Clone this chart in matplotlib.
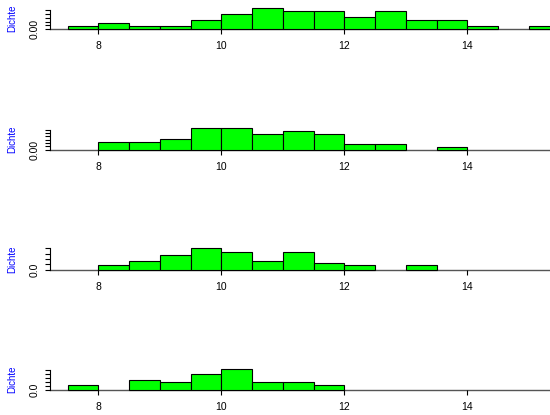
import matplotlib.pyplot as plt
import numpy as np

plt.rcParams['font.family'] = ['Liberation Sans', 'DejaVu Sans']

# histogram bins 7.5 .. 15.5, width 0.5
breaks = np.arange(7.5, 16.0, 0.5)

# counts per bin, four samples of 50
counts1 = [1, 2, 1, 1, 3, 5, 7, 6, 6, 4, 6, 3, 3, 1, 0, 1]
counts2 = [0, 3, 3, 4, 8, 8, 6, 7, 6, 2, 2, 0, 1, 0, 0, 0]
counts3 = [0, 2, 4, 7, 10, 8, 4, 8, 3, 2, 0, 2, 0, 0, 0, 0]
counts4 = [3, 0, 6, 5, 10, 13, 5, 5, 3, 0, 0, 0, 0, 0, 0, 0]

xticks = [8, 10, 12, 14]
ytick_steps = [0.05, 0.05, 0.1, 0.1]
ytick_tops = [0.25, 0.30, 0.4, 0.5]
zero_labels = ['0.00', '0.00', '0.0', '0.0']
ylab = 'Dichte'

W, H = 550, 415
fig = plt.figure(figsize=(5.5, 4.15), dpi=100)

baselines = [29.3, 149.7, 269.7, 390.3]   # pixel rows from top
ax_h = 21.5
ax_left, ax_right = 50, 550
px_per_unit = 61.5
x0 = 8 - (98.3 - ax_left) / px_per_unit
x1 = 8 + (ax_right - 98.3) / px_per_unit

for i, counts in enumerate([counts1, counts2, counts3, counts4]):
    counts = np.array(counts)
    n = counts.sum()
    width = breaks[1] - breaks[0]
    dens = counts / (n * width)
    b = baselines[i]
    ax = fig.add_axes([ax_left / W, (H - b) / H, (ax_right - ax_left) / W, ax_h / H])
    ax.axhline(0, color='#555555', lw=1.0, zorder=1, clip_on=False)
    mask = counts > 0
    ax.bar(breaks[:-1][mask], dens[mask], width=width, align='edge',
           color='#00ff00', edgecolor='black', linewidth=0.8, zorder=2,
           clip_on=False)
    ax.set_xlim(x0, x1)
    ax.set_ylim(0, dens.max())
    for s in ['top', 'right', 'bottom']:
        ax.spines[s].set_visible(False)
    ax.spines['left'].set_bounds(0, ytick_tops[i])
    ax.spines['left'].set_linewidth(0.8)
    yt = np.arange(0, ytick_tops[i] + 1e-9, ytick_steps[i])
    ax.set_yticks(yt)
    ax.set_yticklabels([zero_labels[i]] + [''] * (len(yt) - 1),
                       rotation=90, va='center', fontsize=7.5)
    ax.set_xticks(xticks)
    ax.set_xticklabels([str(t) for t in xticks], fontsize=7.5)
    ax.tick_params(axis='both', length=3.6, width=0.8, direction='out')
    ax.tick_params(axis='x', pad=5)
    ax.tick_params(axis='y', pad=4)
    fig.text(12 / W, (H - b + ax_h / 2) / H, ylab, rotation=90,
             color='blue', fontsize=7, ha='center', va='center')

fig.savefig('out.png', dpi=100)
